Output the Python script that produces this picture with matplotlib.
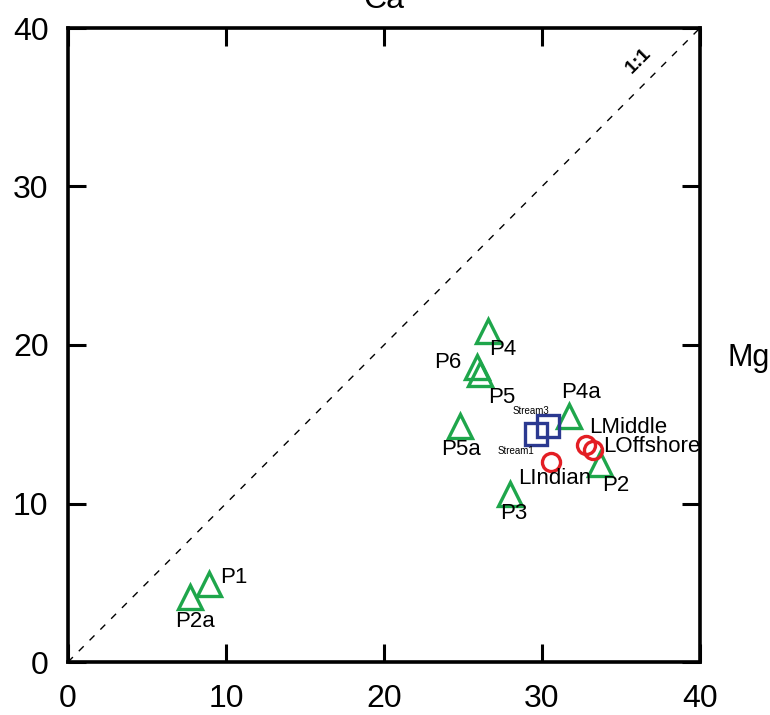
import matplotlib
matplotlib.use("Agg")
from matplotlib import pyplot as plt

# data (Mg on x, Ca on y)
tri_names = ["P4", "P6", "P5", "P5a", "P4a", "P2", "P3", "P1", "P2a"]
tri_mg = [26.6, 25.9, 26.1, 24.8, 31.7, 33.7, 28.0, 8.9, 7.7]
tri_ca = [20.9, 18.6, 18.2, 14.9, 15.5, 12.5, 10.6, 4.9, 4.1]

circ_names = ["LMiddle", "LOffshore", "LIndian"]
circ_mg = [32.8, 33.2, 30.6]
circ_ca = [13.7, 13.4, 12.6]

sq_names = ["Stream3", "Stream1"]
sq_mg = [30.4, 29.6]
sq_ca = [14.9, 14.4]

# label offsets in pixels (dx, dy) from each marker
tri_off = [(14, -19), (-29, 5), (21, -24), (1, -24), (12, 24), (15, -22),
           (3, -20), (25, 7), (5, -24)]
circ_off = [(42, 17), (59, 3), (3, -16)]
sq_off = [(-17, 15), (-20, -17)]

green = "#1ea64b"
red = "#e31e24"
blue = "#2b3990"

plt.rcParams["font.family"] = "Liberation Sans"

fig = plt.figure(figsize=(7.7, 7.15), dpi=100)
ax = fig.add_axes([68 / 770, 53 / 715, 632 / 770, 634 / 715])

ax.plot([0, 40], [0, 40], color="black", lw=1.0, ls=(0, (5, 6)))
ax.text(36.1, 37.9, "1:1", rotation=45, ha="center", va="center",
        fontsize=14, fontweight="bold")

ax.plot(tri_mg, tri_ca, ls="none", marker="^", ms=17, mfc="none",
        mec=green, mew=2.4)
ax.plot(circ_mg, circ_ca, ls="none", marker="o", ms=13, mfc="none",
        mec=red, mew=2.4)
ax.plot(sq_mg, sq_ca, ls="none", marker="s", ms=16, mfc="none",
        mec=blue, mew=2.4)

for names, xs, ys, offs, fs in [(tri_names, tri_mg, tri_ca, tri_off, 16),
                                (circ_names, circ_mg, circ_ca, circ_off, 16),
                                (sq_names, sq_mg, sq_ca, sq_off, 7)]:
    for n, x, y, (dx, dy) in zip(names, xs, ys, offs):
        ax.annotate(n, (x, y), xytext=(dx, dy), textcoords="offset pixels",
                    ha="center", va="center", fontsize=fs)

ax.set_xlim(0, 40)
ax.set_ylim(0, 40)
ax.set_xticks([0, 10, 20, 30, 40])
ax.set_yticks([0, 10, 20, 30, 40])
ax.tick_params(direction="in", length=13, width=2.2, top=True, right=True,
               labelsize=23)
ax.tick_params(axis="x", pad=16)
ax.tick_params(axis="y", pad=14)
for s in ax.spines.values():
    s.set_linewidth(2.6)

fig.text(384 / 770, 1 - 8 / 715, "Ca", ha="center", va="baseline", fontsize=23)
fig.text(727 / 770, (715 - 358) / 715, "Mg", ha="left", va="center", fontsize=22)

fig.savefig("out.png", dpi=100)
